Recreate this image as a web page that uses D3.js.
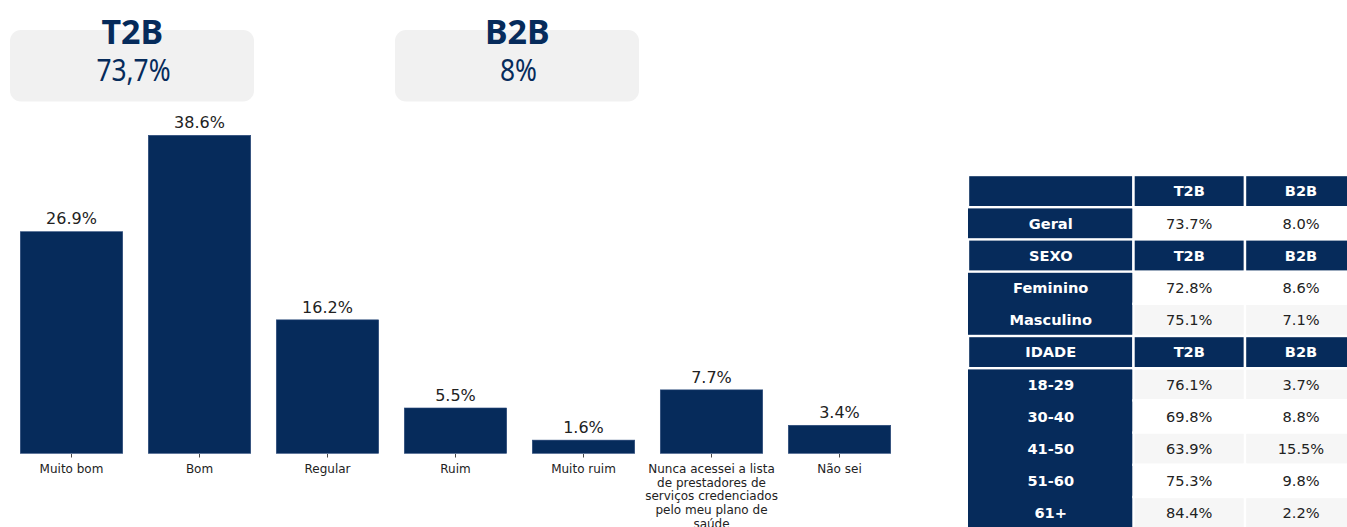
<!DOCTYPE html>
<html>
<head>
<meta charset="utf-8">
<script src="https://cdn.jsdelivr.net/npm/d3@7"></script>
<style>
  html, body { margin: 0; padding: 0; background: #ffffff; }
  svg { display: block; }
</style>
</head>
<body>
<svg id="chart" width="1347" height="527"></svg>
<script>
// ---- data ----
const categories = [
  "Muito bom", "Bom", "Regular", "Ruim", "Muito ruim",
  "Nunca acessei a lista de prestadores de serviços credenciados pelo meu plano de saúde",
  "Não sei"
];
const values = [26.9, 38.6, 16.2, 5.5, 1.6, 7.7, 3.4];

const kpiNames = ["T2B", "B2B"];
const kpiValues = ["73,7%", "8%"];

const tableColumns = ["T2B", "B2B"];
const tableRowLabels = ["", "Geral", "SEXO", "Feminino", "Masculino", "IDADE",
                        "18-29", "30-40", "41-50", "51-60", "61+"];
const tableT2B = [null, 73.7, null, 72.8, 75.1, null, 76.1, 69.8, 63.9, 75.3, 84.4];
const tableB2B = [null, 8.0, null, 8.6, 7.1, null, 3.7, 8.8, 15.5, 9.8, 2.2];

// ---- style ----
const NAVY = "#062b5b";
const TEXT = "#222222";
const FONT = "'DejaVu Sans', sans-serif";

const svg = d3.select("#chart");

// ---- KPI boxes ----
const boxW = 244, boxStep = 385;
const kpiX = d3.scaleBand().domain(kpiNames).range([10, 10 + boxStep + boxW])
  .paddingInner((boxStep - boxW) / boxStep);
const kpi = svg.append("g").selectAll("g").data(kpiNames).join("g")
  .attr("transform", d => `translate(${kpiX(d)},0)`);
kpi.append("rect")
  .attr("y", 30).attr("width", kpiX.bandwidth()).attr("height", 71.5)
  .attr("rx", 11).attr("ry", 11)
  .attr("fill", "#f1f1f1");
kpi.append("text")
  .attr("x", kpiX.bandwidth() / 2 + 0.3).attr("y", 43.5)
  .attr("text-anchor", "middle")
  .attr("font-family", "'Noto Sans', sans-serif")
  .attr("font-weight", 700).attr("font-size", 34)
  .attr("fill", NAVY)
  .text(d => d);
kpi.append("text")
  .attr("transform", `translate(${kpiX.bandwidth() / 2 + 1.5},80.8) scale(0.85,1)`)
  .attr("text-anchor", "middle")
  .attr("font-family", "'Noto Sans', sans-serif")
  .attr("font-weight", 400).attr("font-size", 31)
  .attr("fill", NAVY)
  .text((d, i) => kpiValues[i]);

// ---- bar chart ----
const x = d3.scaleBand().domain(categories).range([7.5, 903.5])
  .paddingInner(0.2).paddingOuter(0.1);
const y = d3.scaleLinear().domain([0, 40]).range([453.3, 123.8]);

const plot = svg.append("g");
plot.selectAll("rect.bar").data(categories).join("rect")
  .attr("class", "bar")
  .attr("x", d => x(d))
  .attr("y", (d, i) => y(values[i]))
  .attr("width", x.bandwidth())
  .attr("height", (d, i) => y(0) - y(values[i]))
  .attr("fill", NAVY)
  .attr("stroke", "#29497a").attr("stroke-width", 0.6);

plot.selectAll("text.val").data(categories).join("text")
  .attr("class", "val")
  .attr("x", d => x(d) + x.bandwidth() / 2)
  .attr("y", (d, i) => y(values[i]) - 7.3)
  .attr("text-anchor", "middle")
  .attr("font-family", FONT).attr("font-size", 16)
  .attr("fill", TEXT)
  .text((d, i) => values[i].toFixed(1) + "%");

// x axis: ticks and wrapped labels only
function wrapWords(s, width) {
  const words = s.split(" ");
  const lines = [];
  let cur = "";
  words.forEach(w => {
    if (!cur.length) cur = w;
    else if ((cur + " " + w).length <= width) cur += " " + w;
    else { lines.push(cur); cur = w; }
  });
  if (cur.length) lines.push(cur);
  return lines;
}

const xAxis = d3.axisBottom(x).tickSize(3.5).tickPadding(0).tickFormat("");
const ax = svg.append("g").attr("transform", `translate(0,${y(0) + 0.7})`).call(xAxis);
ax.select(".domain").remove();
ax.selectAll(".tick line").attr("stroke", "#333333").attr("stroke-width", 0.9);
ax.selectAll(".tick").each(function (d) {
  const t = d3.select(this).append("text")
    .attr("fill", TEXT)
    .attr("font-family", FONT).attr("font-size", 12)
    .attr("text-anchor", "middle");
  wrapWords(d, 21).forEach((line, k) => {
    t.append("tspan").attr("x", 0).attr("y", 19 + k * 13.65).text(line);
  });
});

// ---- summary table ----
const colX = [968, 1133.5, 1245];
const colW = [165.5, 111.5, 112];
const nRows = tableRowLabels.length;
const rowY = d3.scaleBand().domain(d3.range(nRows)).range([175, 175 + 32.2 * nRows]);
const rh = rowY.bandwidth();
const isHeader = i => tableT2B[i] === null;
const bodyRows = d3.range(nRows).filter(i => !isHeader(i));

const tbl = svg.append("g");

// body label column: one navy block per run of consecutive body rows
const runs = [];
bodyRows.forEach(i => {
  const last = runs[runs.length - 1];
  if (last && last.end === i - 1) last.end = i;
  else runs.push({ start: i, end: i });
});
tbl.selectAll("rect.lab").data(runs).join("rect")
  .attr("class", "lab")
  .attr("x", colX[0]).attr("y", r => rowY(r.start))
  .attr("width", colW[0]).attr("height", r => rowY(r.end) + rh - rowY(r.start))
  .attr("fill", NAVY);

// body value cells, alternating shading
const bodyCells = [];
bodyRows.forEach(i => {
  [tableT2B[i], tableB2B[i]].forEach((v, c) => bodyCells.push({ i, c: c + 1, v }));
});
tbl.selectAll("rect.val").data(bodyCells).join("rect")
  .attr("class", "val")
  .attr("x", d => colX[d.c]).attr("y", d => rowY(d.i))
  .attr("width", d => colW[d.c]).attr("height", rh)
  .attr("fill", d => d.i % 2 === 0 ? "#f6f6f6" : "#ffffff")
  .attr("stroke", "#ffffff").attr("stroke-width", 2.4);

// header cells
const headCells = [];
d3.range(nRows).filter(isHeader).forEach(i => {
  [tableRowLabels[i]].concat(tableColumns).forEach((t, c) => headCells.push({ i, c, t }));
});
tbl.selectAll("rect.head").data(headCells).join("rect")
  .attr("class", "head")
  .attr("x", d => colX[d.c]).attr("y", d => rowY(d.i))
  .attr("width", d => colW[d.c]).attr("height", rh)
  .attr("fill", NAVY)
  .attr("stroke", "#ffffff").attr("stroke-width", 2.4);

// texts
tbl.selectAll("text.head").data(headCells).join("text")
  .attr("class", "head")
  .attr("x", d => colX[d.c] + colW[d.c] / 2)
  .attr("y", d => rowY(d.i) + rh / 2 + 5.3)
  .attr("text-anchor", "middle")
  .attr("font-family", FONT).attr("font-weight", 700).attr("font-size", 14.6)
  .attr("fill", "#ffffff")
  .text(d => d.t);

tbl.selectAll("text.lab").data(bodyRows).join("text")
  .attr("class", "lab")
  .attr("x", colX[0] + colW[0] / 2)
  .attr("y", i => rowY(i) + rh / 2 + 5.3)
  .attr("text-anchor", "middle")
  .attr("font-family", FONT).attr("font-weight", 700).attr("font-size", 14.6)
  .attr("fill", "#ffffff")
  .text(i => tableRowLabels[i]);

tbl.selectAll("text.val").data(bodyCells).join("text")
  .attr("class", "val")
  .attr("x", d => colX[d.c] + colW[d.c] / 2)
  .attr("y", d => rowY(d.i) + rh / 2 + 5.3)
  .attr("text-anchor", "middle")
  .attr("font-family", FONT).attr("font-size", 14.6)
  .attr("fill", TEXT)
  .text(d => d.v.toFixed(1) + "%");
</script>
</body>
</html>
